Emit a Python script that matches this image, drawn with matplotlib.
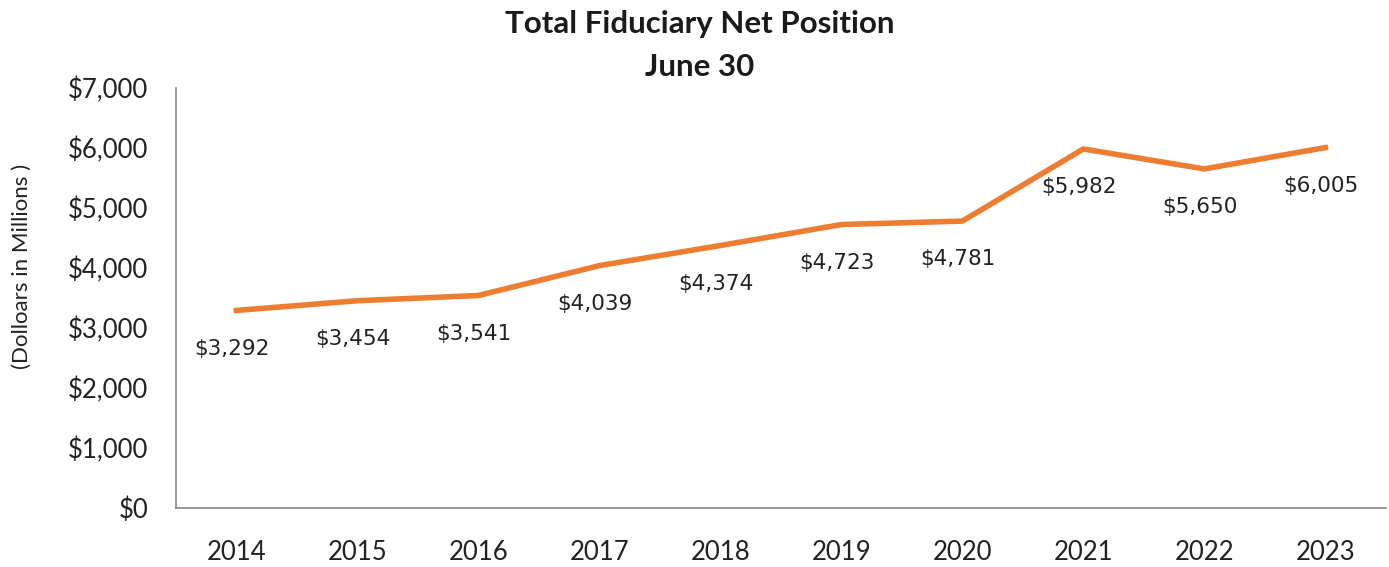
import matplotlib
matplotlib.use("Agg")
import matplotlib.pyplot as plt
from matplotlib.ticker import FuncFormatter

years = ["2014", "2015", "2016", "2017", "2018", "2019", "2020", "2021", "2022", "2023"]
values = [3292, 3454, 3541, 4039, 4374, 4723, 4781, 5982, 5650, 6005]
y_ticks = [0, 1000, 2000, 3000, 4000, 5000, 6000, 7000]

fig = plt.figure(figsize=(13.89, 5.67), dpi=100)
ax = fig.add_axes([0.1267, 0.104, 0.871, 0.741])

x = list(range(len(years)))
ax.plot(x, values, color="#ED7D31", linewidth=4.0, solid_joinstyle="miter")

for xi, v in zip(x, values):
    ax.annotate(f"${v:,}", (xi, v), xytext=(-3, -27.5), textcoords="offset points",
                ha="center", va="center", fontsize=15.5, family="DejaVu Sans", color="#222222")

ax.set_xlim(-0.5, len(years) - 0.5)
ax.set_ylim(0, 7000)
ax.set_yticks(y_ticks)
ax.yaxis.set_major_formatter(FuncFormatter(lambda v, p: f"${int(v):,}"))
ax.set_xticks(x)
ax.set_xticklabels(years)
ax.tick_params(axis="both", length=0, labelsize=18.5, colors="#222222")
ax.tick_params(axis="y", pad=20)
ax.tick_params(axis="x", pad=23)
for lab in ax.get_xticklabels() + ax.get_yticklabels():
    lab.set_family("Lato")

for s in ["top", "right"]:
    ax.spines[s].set_visible(False)
for s in ["left", "bottom"]:
    ax.spines[s].set_color("#888888")
    ax.spines[s].set_linewidth(1.2)

fig.text(0.504, 0.958, "Total Fiduciary Net Position", ha="center", va="center",
         fontsize=22.5, fontweight="bold", family="Lato", color="#1a1a1a")
fig.text(0.504, 0.882, "June 30", ha="center", va="center",
         fontsize=22.5, fontweight="bold", family="Lato", color="#1a1a1a")
fig.text(0.0155, 0.53, "(Dolloars in Millions )", rotation=90, ha="center", va="center",
         fontsize=16, family="Lato", color="#222222")

fig.savefig("out.png", dpi=100, facecolor="white")
